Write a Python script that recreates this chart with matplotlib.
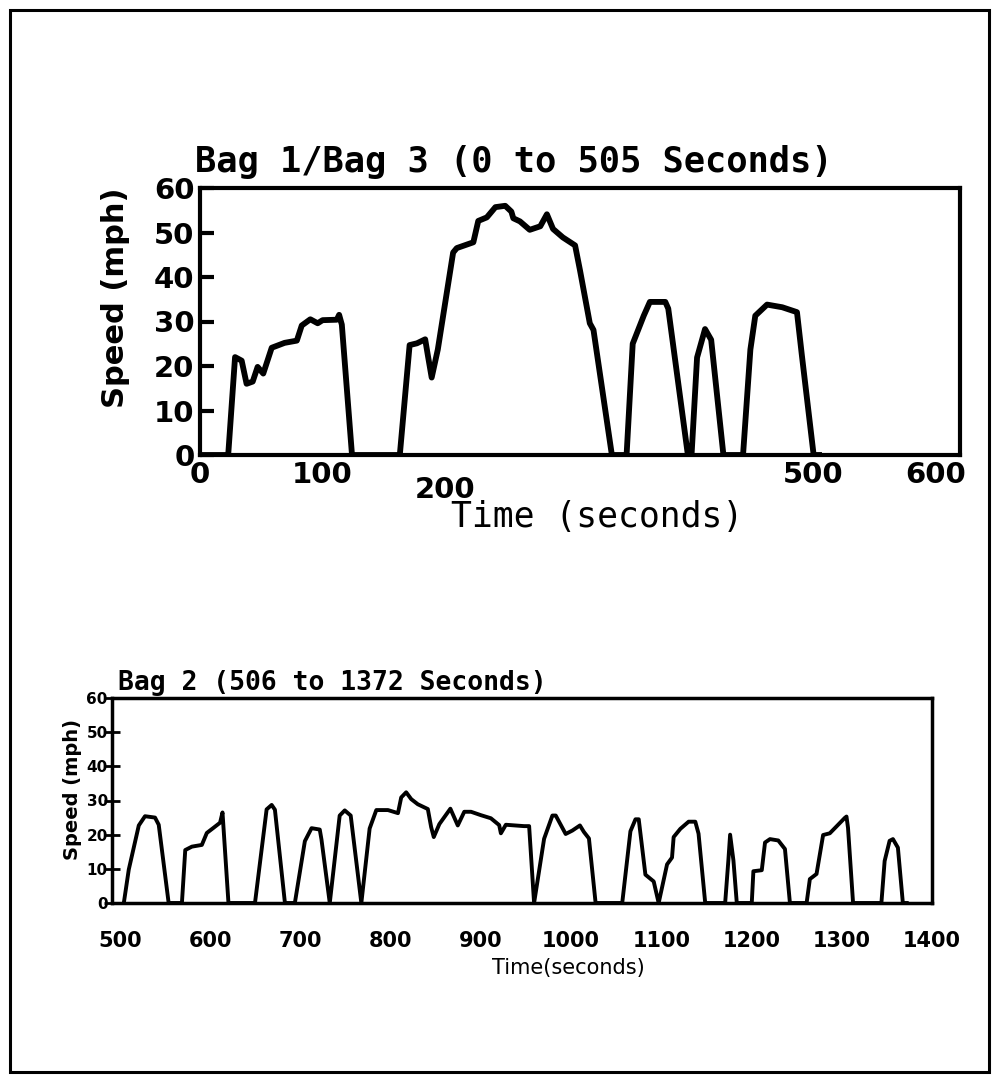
import numpy as np
import matplotlib.pyplot as plt
from matplotlib.patches import Rectangle
import matplotlib.transforms as mtransforms

# Bag 1 / Bag 3 (0 to 505 s) - speed trace
t_bag1 = [0, 23, 28.6, 34, 38, 43, 47, 51.6, 58.5, 69, 79, 83, 90, 96, 100, 111.6, 113.5, 115.7, 124,
          163, 171, 177, 183.7, 186, 189, 194, 206.5, 209.5, 223, 227, 234, 241, 249, 254, 255.6, 261,
          269, 277.6, 283, 288, 296, 306, 310, 318, 321, 336,
          348, 353, 362, 367, 379.6, 382, 398,
          401, 405.5, 412, 417, 427,
          443, 449, 453, 462.6, 475, 487, 491, 500.6, 505]
v_bag1 = [0, 0, 22.0, 21.2, 16.0, 16.5, 19.8, 18.3, 24.1, 25.2, 25.7, 29.1, 30.5, 29.6, 30.3, 30.4, 31.5, 29.3, 0,
          0, 24.7, 25.1, 26.0, 22.2, 17.4, 23.7, 45.5, 46.5, 47.8, 52.6, 53.4, 55.7, 56.0, 54.7, 53.2, 52.5,
          50.6, 51.4, 54.1, 50.8, 48.9, 47.1, 41.5, 29.6, 28.1, 0,
          0, 25.0, 31.3, 34.4, 34.4, 32.9, 0,
          0, 21.9, 28.3, 25.9, 0,
          0, 23.7, 31.3, 33.8, 33.2, 32.1, 22.4, 0, 0]

# Bag 2 (506 to 1372 s)
t_bag2 = [504.1, 509.6, 520.7, 527.6, 538.7, 542.8, 553.8,
          568.5, 572.2, 579.6, 590.6, 596.1, 603.5, 610.8, 613.5, 620.1,
          649.5, 662.4, 668, 671.6, 682.7,
          693.7, 704.8, 712.2, 721.3, 723.2, 732.4,
          743.4, 749, 755.6, 767.4,
          776.6, 784, 796.9, 808, 811.6, 817.1, 822.7, 830, 841.1, 844.8, 847.7, 853.9, 866.1, 874.3,
          881.5, 889, 900, 911, 920.2, 922.1, 927.6, 947.8, 953.4, 958.9,
          970, 979.2, 982.9, 993.9, 1001.3, 1009.7, 1014.1, 1019.7, 1027.1,
          1056.6, 1065.7, 1071.3, 1074.9, 1082.3, 1091.5, 1097,
          1106.3, 1111.8, 1113.6, 1121, 1130.2, 1137.6, 1141.2, 1148.6,
          1170.7, 1174.3, 1176.2, 1179.9, 1183.6,
          1200.2, 1202, 1211.3, 1214.9, 1220.4, 1229.6, 1237, 1242.5,
          1261, 1264.6, 1272, 1279.3, 1286.7, 1294.1, 1303.3, 1305.2, 1306.9, 1312.5,
          1343.9, 1347.5, 1353, 1356.7, 1362.2, 1367.7, 1372]
v_bag2 = [0, 9.8, 22.7, 25.4, 25.0, 22.9, 0,
          0, 15.5, 16.5, 17.0, 20.5, 22.0, 23.5, 26.5, 0,
          0, 27.4, 28.7, 27.3, 0,
          0, 18.1, 21.9, 21.5, 18.6, 0,
          25.6, 27.1, 25.6, 0,
          21.8, 27.2, 27.2, 26.3, 30.9, 32.4, 30.4, 28.9, 27.5, 22.2, 19.3, 23.1, 27.6, 22.7,
          26.7, 26.7, 25.7, 24.8, 22.8, 20.4, 22.9, 22.5, 22.5, 0,
          18.8, 25.6, 25.6, 20.2, 21.2, 22.7, 20.8, 18.9, 0,
          0, 21.0, 24.5, 24.5, 8.3, 6.3, 0,
          11.3, 13.3, 19.3, 21.7, 23.8, 23.8, 20.3, 0,
          0, 12.6, 20.0, 12.4, 0,
          0, 9.3, 9.6, 17.7, 18.7, 18.3, 15.8, 0,
          0, 7.0, 8.5, 19.9, 20.4, 22.4, 24.9, 25.3, 22.0, 0,
          0, 12.3, 18.2, 18.7, 16.2, 0, 0]

yticks = [0, 10, 20, 30, 40, 50, 60]
xticks_top = [0, 100, 200, 500, 600]
xticks_bot = [500, 600, 700, 800, 900, 1000, 1100, 1200, 1300, 1400]

W, H = 998, 1080
fig = plt.figure(figsize=(W / 100, H / 100), dpi=100)
MONO = 'DejaVu Sans Mono'

def fx(px):
    return px / W

def fy(py):
    return 1 - py / H

# outer frame
fig.patches.append(Rectangle((fx(10), fy(1072)), fx(989) - fx(10), fy(10) - fy(1072),
                             transform=fig.transFigure, fill=False, lw=2.2, ec='black'))

# ---- top panel
ax1 = fig.add_axes([fx(200), fy(455), fx(960) - fx(200), fy(188) - fy(455)])
ax1.plot(t_bag1, v_bag1, color='black', lw=4.2, solid_joinstyle='round')
ax1.set_xlim(0, 620)
ax1.set_ylim(0, 60)
ax1.set_yticks(yticks)
ax1.set_xticks(xticks_top)
# the "200" label sits lower in the scan, so it is drawn separately
ax1.set_xticklabels([str(v) if v != 200 else '' for v in xticks_top])
for s in ax1.spines.values():
    s.set_linewidth(3)
ax1.tick_params(axis='y', direction='in', length=10, width=3, pad=4, labelsize=21)
ax1.tick_params(axis='x', length=0, pad=4, labelsize=21)
for lab in ax1.get_xticklabels() + ax1.get_yticklabels():
    lab.set_fontweight('bold')
trans = mtransforms.blended_transform_factory(ax1.transData, ax1.transAxes)
ax1.text(xticks_top[2], -0.13, str(xticks_top[2]), transform=trans, fontsize=21,
         fontweight='bold', ha='center', va='center')

fig.text(fx(195), fy(162), 'Bag 1/Bag 3 (0 to 505 Seconds)', fontsize=25.5, fontweight='bold',
         family=MONO, ha='left', va='center')
fig.text(fx(116), fy(298), 'Speed (mph)', fontsize=22, fontweight='bold', rotation=90,
         ha='center', va='center')
fig.text(fx(597), fy(517), 'Time (seconds)', fontsize=25, family=MONO,
         ha='center', va='center')

# ---- bottom panel
ax2 = fig.add_axes([fx(112), fy(903), fx(932) - fx(112), fy(698) - fy(903)])
ax2.plot(t_bag2, v_bag2, color='black', lw=2.8, solid_joinstyle='round')
ax2.set_xlim(491, 1400)
ax2.set_ylim(0, 60)
ax2.set_yticks(yticks)
ax2.set_xticks(xticks_bot)
for s in ax2.spines.values():
    s.set_linewidth(2.5)
ax2.tick_params(axis='y', direction='inout', length=12, width=2, pad=-3, labelsize=11)
ax2.tick_params(axis='x', length=0, pad=20, labelsize=15)
for lab in ax2.get_xticklabels() + ax2.get_yticklabels():
    lab.set_fontweight('bold')

fig.text(fx(118), fy(683), 'Bag 2 (506 to 1372 Seconds)', fontsize=19, fontweight='bold',
         family=MONO, ha='left', va='center')
fig.text(fx(73), fy(790), 'Speed (mph)', fontsize=14, fontweight='bold', rotation=90,
         ha='center', va='center')
fig.text(fx(568), fy(968), 'Time(seconds)', fontsize=15, ha='center', va='center')

fig.savefig('out.png', dpi=100)
